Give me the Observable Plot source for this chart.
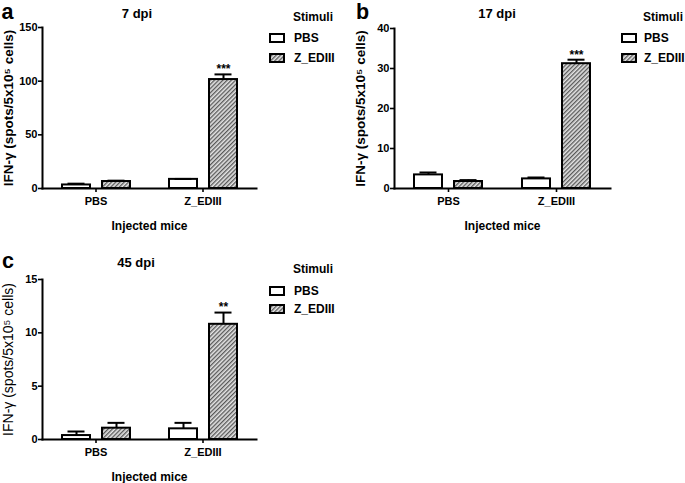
<!DOCTYPE html>
<html>
<head>
<meta charset="utf-8">
<script src="https://cdn.jsdelivr.net/npm/d3@7"></script>
<script src="https://cdn.jsdelivr.net/npm/@observablehq/plot@0.6"></script>
<style>
  html, body { margin: 0; padding: 0; background: #fff; }
  body { width: 685px; height: 483px; position: relative; overflow: hidden;
         font-family: "Liberation Sans", Arial, Helvetica, sans-serif; font-weight: bold; color: #000; }
  .abs { position: absolute; white-space: nowrap; line-height: 1; }
  .ctr { transform: translateX(-50%); }
  .big { line-height: 24px; }
  svg { display: block; }
</style>
</head>
<body>
<script>
// ---------- DATA ----------
const groups = ["PBS", "Z_EDIII"];        // injected mice (x groups)
const stimuli = ["PBS", "Z_EDIII"];       // stimuli (series)
// order: [PBS-inj/PBS, PBS-inj/Z_EDIII, Z_EDIII-inj/PBS, Z_EDIII-inj/Z_EDIII]
const meanA = [3.3, 6.5, 8.5, 101.5];
const errA  = [1.2, 0.8, 0.4, 4.8];
const sigA  = ["", "", "", "***"];
const ticksA = [0, 50, 100, 150];

const meanB = [3.4, 1.75, 2.4, 31.2];
const errB  = [0.6, 0.35, 0.35, 1.0];
const sigB  = ["", "", "", "***"];
const ticksB = [0, 10, 20, 30, 40];

const meanC = [0.37, 1.06, 1.0, 10.8];
const errC  = [0.38, 0.5, 0.56, 1.1];
const sigC  = ["", "", "", "**"];
const ticksC = [0, 5, 10, 15];

const titles = ["7 dpi", "17 dpi", "45 dpi"];
const letters = ["a", "b", "c"];
const yLabel = "IFN-γ (spots/5x10⁵ cells)";
const xLabel = "Injected mice";
const legendTitle = "Stimuli";

const FONT = '"Liberation Sans", Arial, Helvetica, sans-serif';

function addHatch(svgNode, id) {
  const defs = d3.select(svgNode).insert("defs", ":first-child");
  const p = defs.append("pattern").attr("id", id)
    .attr("patternUnits", "userSpaceOnUse").attr("width", 3).attr("height", 3)
    .attr("patternTransform", "rotate(45)");
  p.append("rect").attr("width", 3).attr("height", 3).attr("fill", "#e4e4e4");
  p.append("line").attr("x1", 0.7).attr("y1", 0).attr("x2", 0.7).attr("y2", 3)
    .attr("stroke", "#4a4a4a").attr("stroke-width", 1.2);
}

function el(cls, left, top, text, size) {
  const d = document.createElement("div");
  d.className = "abs " + cls;
  d.style.left = left + "px";
  d.style.top = top + "px";
  d.style.fontSize = size + "px";
  d.textContent = text;
  document.body.appendChild(d);
  return d;
}

function legend(id, boxLeft, textLeft, titleTop, row1Top, row2Top) {
  el("", textLeft - 1, titleTop, legendTitle, 12);
  [row1Top, row2Top].forEach((t, i) => {
    const s = document.createElementNS("http://www.w3.org/2000/svg", "svg");
    s.setAttribute("width", 16); s.setAttribute("height", 10);
    s.style.position = "absolute"; s.style.left = boxLeft + "px"; s.style.top = t + "px";
    const pid = "lg-" + id + i;
    addHatch(s, pid);
    const r = document.createElementNS("http://www.w3.org/2000/svg", "rect");
    r.setAttribute("x", 1); r.setAttribute("y", 1); r.setAttribute("width", 14); r.setAttribute("height", 8);
    r.setAttribute("fill", i === 0 ? "#fff" : `url(#${pid})`);
    r.setAttribute("stroke", "#000"); r.setAttribute("stroke-width", 2);
    s.appendChild(r);
    document.body.appendChild(s);
    el("", textLeft, t - 0.8, stimuli[i], 12);
  });
}

function panel(cfg) {
  const rows = [];
  groups.forEach((g, gi) => stimuli.forEach((s, si) => {
    const i = gi * stimuli.length + si;
    rows.push({group: g, stim: s, value: cfg.mean[i], err: cfg.err[i],
               top: cfg.mean[i] + cfg.err[i], sig: cfg.sig[i]});
  }));
  const pid = "hatch-" + cfg.id;
  const svg = Plot.plot({
    width: cfg.width, height: cfg.height,
    marginLeft: 42, marginRight: cfg.mr, marginTop: cfg.mt, marginBottom: cfg.mb,
    style: {fontFamily: FONT, fontWeight: "bold", fontSize: "11px", color: "#000",
            background: "transparent", overflow: "visible"},
    fx: {domain: groups, padding: 0},
    x: {domain: stimuli, paddingInner: 0.31, paddingOuter: 0.49, axis: null},
    y: {domain: [0, cfg.max]},
    marks: [
      Plot.barY(rows.filter(d => d.stim === stimuli[0]),
        {fx: "group", x: "stim", y: "value", fill: "#fff", stroke: "#000", strokeWidth: 2}),
      Plot.barY(rows.filter(d => d.stim === stimuli[1]),
        {fx: "group", x: "stim", y: "value", fill: `url(#${pid})`, stroke: "#000", strokeWidth: 2}),
      Plot.ruleX(rows, {fx: "group", x: "stim", y1: "value", y2: "top", stroke: "#000", strokeWidth: 2}),
      Plot.tickY(rows, {fx: "group", x: "stim", y: "top", stroke: "#000", strokeWidth: 2, inset: 5.5}),
      Plot.text(rows.filter(d => d.sig), {fx: "group", x: "stim", y: "top", text: "sig",
        dy: -5, fontSize: 12, fontWeight: "bold"}),
      Plot.frame({anchor: "left", facet: "super", stroke: "#000", strokeWidth: 2}),
      Plot.frame({anchor: "bottom", facet: "super", stroke: "#000", strokeWidth: 2}),
      Plot.axisY({ticks: cfg.ticks, tickSize: 4, tickPadding: 1, strokeWidth: 1.6,
        fontSize: 11, fontWeight: "bold", label: null}),
      Plot.axisFx({anchor: "bottom", tickSize: 4, tickPadding: 5, strokeWidth: 1.6,
        fontSize: 11, fontWeight: "bold", label: null}),
      Plot.text([xLabel], {frameAnchor: "bottom", facet: "super", dy: 41, fontSize: 12,
        fontWeight: "bold", textAnchor: "middle", lineAnchor: "bottom"}),
      Plot.text([yLabel], {frameAnchor: "left", facet: "super", rotate: -90, dx: -34,
        textAnchor: "middle", lineAnchor: "middle", fontSize: cfg.ys, fontWeight: cfg.yw})
    ]
  });
  addHatch(svg, pid);
  const wrap = document.createElement("div");
  wrap.style.position = "absolute";
  wrap.style.left = cfg.left + "px";
  wrap.style.top = cfg.top + "px";
  wrap.appendChild(svg);
  document.body.appendChild(wrap);
}

panel({id: "a", left: 0, top: 0, width: 262, height: 240, mr: 6, mt: 27, mb: 52,
       max: 150, ticks: ticksA, mean: meanA, err: errA, sig: sigA, yw: "bold", ys: 13.5});
panel({id: "b", left: 351, top: 0, width: 262, height: 240, mr: 3, mt: 28, mb: 52,
       max: 40, ticks: ticksB, mean: meanB, err: errB, sig: sigB, yw: "bold", ys: 13.5});
panel({id: "c", left: 0, top: 252, width: 262, height: 231, mr: 6, mt: 27, mb: 44,
       max: 15, ticks: ticksC, mean: meanC, err: errC, sig: sigC, yw: "normal", ys: 14});

// panel letters and titles
el("big", 1.5, 0.1, letters[0], 21.5);
el("big", 356, 0.1, letters[1], 21.5);
el("big", 2, 248.5, letters[2], 21.5);
el("ctr", 137, 6.5, titles[0], 13);
el("ctr", 497, 6.5, titles[1], 13);
el("ctr", 136, 256, titles[2], 13);

// legends
legend("a", 269, 294, 11.3, 33, 53);
legend("b", 621, 644, 11.3, 33, 53);
legend("c", 269, 294, 262.8, 286, 304);
</script>
</body>
</html>
